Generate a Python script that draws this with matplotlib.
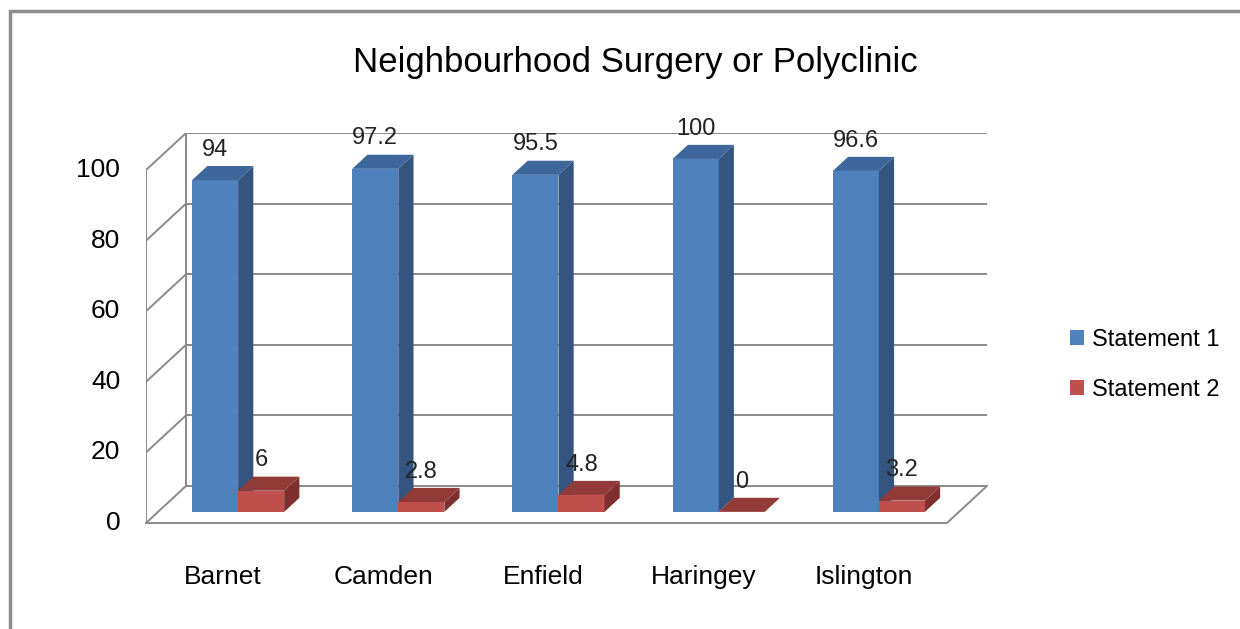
import matplotlib
matplotlib.use('Agg')
import matplotlib.pyplot as plt
from matplotlib.patches import Polygon, Rectangle, Patch

plt.rcParams['font.family'] = ['Liberation Sans', 'DejaVu Sans']

categories = ['Barnet', 'Camden', 'Enfield', 'Haringey', 'Islington']
statement1 = [94, 97.2, 95.5, 100, 96.6]
statement2 = [6, 2.8, 4.8, 0, 3.2]
labels1 = ['94', '97.2', '95.5', '100', '96.6']
labels2 = ['6', '2.8', '4.8', '0', '3.2']
yticks = [0, 20, 40, 60, 80, 100]

# colours: front, side, top
blue = ('#4f81bd', '#34557f', '#3d679b')
red = ('#c0504d', '#7f302e', '#923a37')
grid_col = '#8a8a8a'

# fake 3d depth in data units
ddx = 0.25
ddy = 10.5
d0 = 0.3      # bar starts this far back
dd = 0.38     # bar depth
w = 0.2875    # bar width

fig = plt.figure(figsize=(12.4, 6.29), dpi=100)
ax = fig.add_axes([146 / 1240, 106 / 629, 841 / 1240, 390 / 629])
ax.set_xlim(0, 5 + ddx)
ax.set_ylim(0, 100 + ddy)
ax.axis('off')

# walls and gridlines
for g in yticks:
    ax.plot([ddx, 5 + ddx], [g + ddy, g + ddy], color=grid_col, lw=1.4, zorder=1)
    ax.plot([0, ddx], [g, g + ddy], color=grid_col, lw=1.4, zorder=1)
ax.plot([0, 0], [0, 100], color=grid_col, lw=1.4, zorder=1)
ax.plot([ddx, ddx], [ddy, 100 + ddy], color=grid_col, lw=1.4, zorder=1)
ax.plot([0, 5, 5 + ddx], [0, 0, ddy], color=grid_col, lw=1.4, zorder=1, clip_on=False)

for g in yticks:
    ax.text(-0.16, g, str(g), ha='right', va='center', fontsize=19)


def draw_bar(x0, v, cols, lab):
    b = d0 * ddy
    xs = x0 + d0 * ddx
    ax.bar(xs, v, width=w, bottom=b, align='edge', color=cols[0], lw=0, zorder=3)
    x1 = xs + w
    ex, ey = dd * ddx, dd * ddy
    side = Polygon([(x1, b), (x1, b + v), (x1 + ex, b + v + ey), (x1 + ex, b + ey)],
                   closed=True, facecolor=cols[1], lw=0, zorder=3)
    top = Polygon([(xs, b + v), (x1, b + v), (x1 + ex, b + v + ey), (xs + ex, b + v + ey)],
                  closed=True, facecolor=cols[2], lw=0, zorder=3)
    ax.add_patch(side)
    ax.add_patch(top)
    ax.text(xs + w / 2, b + v + ey + 1.5, lab, ha='center', va='bottom',
            fontsize=17, color='#222222', zorder=4)


for i in range(len(categories)):
    draw_bar(i + 0.5 - w, statement1[i], blue, labels1[i])
    draw_bar(i + 0.5, statement2[i], red, labels2[i])
    ax.text(i + 0.48, -12, categories[i], ha='center', va='top', fontsize=19)

fig.text(0.512, 0.901, 'Neighbourhood Surgery or Polyclinic', ha='center', va='center',
         fontsize=25)

handles = [Patch(facecolor=blue[0]), Patch(facecolor=red[0])]
fig.legend(handles, ['Statement 1', 'Statement 2'], loc='center left',
           bbox_to_anchor=(1070 / 1240, 0.42), frameon=False, fontsize=17,
           borderpad=0, borderaxespad=0,
           handlelength=0.6, handleheight=0.6, handletextpad=0.35, labelspacing=1.2)

# outer chart border (top and left visible)
fig.patches.append(Rectangle((10 / 1240, -0.1), 1.2, (629 - 11) / 629 + 0.1,
                             transform=fig.transFigure, fill=False,
                             edgecolor='#8c8c8c', lw=2.5))

fig.savefig('out.png', dpi=100)
